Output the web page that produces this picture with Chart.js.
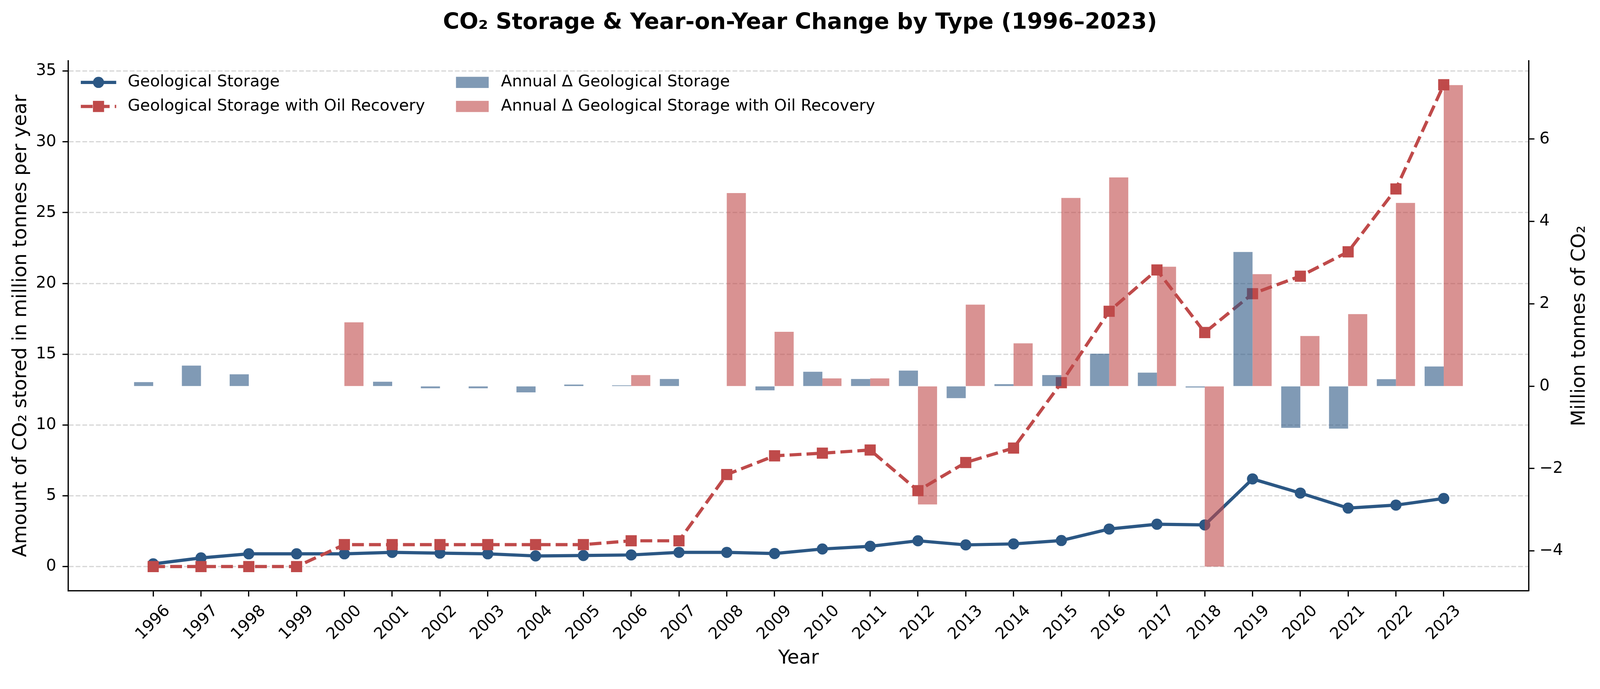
<!DOCTYPE html>
<html>
<head>
<meta charset="utf-8">
<script src="https://cdn.jsdelivr.net/npm/chart.js@4.4.0/dist/chart.umd.min.js"></script>
<style>
  html, body { margin: 0; padding: 0; background: #fff; overflow: hidden; }
  canvas { display: block; }
</style>
</head>
<body>
<canvas id="co2Chart"></canvas>
<script>
// data
const years = [1996, 1997, 1998, 1999, 2000, 2001, 2002, 2003, 2004, 2005, 2006, 2007, 2008, 2009,
               2010, 2011, 2012, 2013, 2014, 2015, 2016, 2017, 2018, 2019, 2020, 2021, 2022, 2023];
const geoStorage = [0.19, 0.61, 0.90, 0.90, 0.90, 1.00, 0.95, 0.90, 0.75, 0.78, 0.82, 1.00, 1.00, 0.92,
                    1.24, 1.43, 1.82, 1.53, 1.60, 1.84, 2.65, 2.99, 2.94, 6.19, 5.19, 4.13, 4.34, 4.81];
const oilStorage = [0, 0, 0, 0, 1.55, 1.55, 1.55, 1.55, 1.55, 1.55, 1.82, 1.82, 6.50, 7.82,
                    8.01, 8.23, 5.36, 7.35, 8.37, 12.99, 18.03, 20.95, 16.53, 19.27, 20.51, 22.23, 26.67, 34.03];
const geoDelta = [0.10, 0.50, 0.29, 0, 0, 0.11, -0.05, -0.05, -0.15, 0.04, 0.02, 0.175, 0, -0.10,
                  0.35, 0.175, 0.38, -0.29, 0.05, 0.27, 0.79, 0.33, -0.03, 3.26, -1.01, -1.03, 0.17, 0.48];
const oilDelta = [0, 0, 0, 0, 1.55, 0, 0, 0, 0, 0, 0.27, 0, 4.69, 1.32,
                  0.19, 0.19, -2.87, 1.98, 1.04, 4.57, 5.07, 2.90, -4.38, 2.72, 1.22, 1.75, 4.45, 7.31];
const leftTicks = [0, 5, 10, 15, 20, 25, 30, 35];
const rightTicks = [-4, -2, 0, 2, 4, 6];

const titleText = 'CO\u2082 Storage & Year-on-Year Change by Type (1996\u20132023)';
const leftLabel = 'Amount of CO\u2082 stored in million tonnes per year';
const rightLabel = 'Million tonnes of CO\u2082';
const xLabel = 'Year';

// layout is designed on a 4158 x 1763 sheet, then scaled to fit the viewport
const BASE_W = 4158, BASE_H = 1763;
const S = Math.min(window.innerWidth / BASE_W, window.innerHeight / BASE_H);
const px = v => v * S;

const BLUE = 'rgb(43,87,132)';
const RED = 'rgb(191,74,74)';
const BLUE_BAR = 'rgba(43,87,132,0.6)';
const RED_BAR = 'rgba(191,74,74,0.6)';
const FONT = '"DejaVu Sans", sans-serif';
const LW = px(8.33);
const DASH = [px(30.8), px(13.3)];

const legendItems = [
  { label: 'Geological Storage', kind: 'line', color: BLUE, marker: 'circle', col: 0, row: 0 },
  { label: 'Geological Storage with Oil Recovery', kind: 'line', color: RED, marker: 'rect', dash: DASH, col: 0, row: 1 },
  { label: 'Annual \u0394 Geological Storage', kind: 'bar', color: BLUE_BAR, col: 1, row: 0 },
  { label: 'Annual \u0394 Geological Storage with Oil Recovery', kind: 'bar', color: RED_BAR, col: 1, row: 1 }
];

const toPoints = arr => arr.map((v, i) => ({ x: years[i], y: v }));

// title, legend, axis titles and rotated year labels
const decor = {
  id: 'decor',
  afterDraw(chart) {
    const ctx = chart.ctx;
    const area = chart.chartArea;
    const xs = chart.scales.x;
    ctx.save();
    ctx.fillStyle = '#000';

    ctx.font = 'bold ' + px(58) + 'px ' + FONT;
    ctx.textAlign = 'center';
    ctx.textBaseline = 'alphabetic';
    ctx.fillText(titleText, chart.width / 2, px(75));

    // year labels, rotated 45 deg and centred on the tick
    ctx.font = px(41.7) + 'px ' + FONT;
    ctx.textBaseline = 'middle';
    years.forEach(yr => {
      ctx.save();
      ctx.translate(xs.getPixelForValue(yr), area.bottom + px(83));
      ctx.rotate(-Math.PI / 4);
      ctx.fillText(String(yr), 0, 0);
      ctx.restore();
    });

    // axis titles
    ctx.font = px(50) + 'px ' + FONT;
    ctx.textBaseline = 'alphabetic';
    ctx.fillText(xLabel, (area.left + area.right) / 2, px(1724));
    const midY = (area.top + area.bottom) / 2;
    ctx.save();
    ctx.translate(px(68), midY);
    ctx.rotate(-Math.PI / 2);
    ctx.fillText(leftLabel, 0, 0);
    ctx.restore();
    ctx.save();
    ctx.translate(px(4118), midY);
    ctx.rotate(-Math.PI / 2);
    ctx.fillText(rightLabel, 0, 0);
    ctx.restore();

    // legend, two columns, no frame
    const colX = [area.left + px(33), area.left + px(1008)];
    const rowY = [area.top + px(56), area.top + px(118.5)];
    ctx.font = px(41.7) + 'px ' + FONT;
    ctx.textAlign = 'left';
    ctx.textBaseline = 'middle';
    legendItems.forEach(it => {
      const x0 = colX[it.col];
      const y0 = rowY[it.row];
      if (it.kind === 'line') {
        ctx.save();
        ctx.strokeStyle = it.color;
        ctx.lineWidth = LW;
        ctx.setLineDash(it.dash || []);
        ctx.beginPath();
        ctx.moveTo(x0, y0);
        ctx.lineTo(x0 + px(92), y0);
        ctx.stroke();
        ctx.setLineDash([]);
        ctx.fillStyle = it.color;
        if (it.marker === 'circle') {
          ctx.beginPath();
          ctx.arc(x0 + px(46), y0, px(14.5), 0, Math.PI * 2);
          ctx.fill();
        } else {
          ctx.fillRect(x0 + px(46 - 14.5), y0 - px(14.5), px(29), px(29));
        }
        ctx.restore();
        ctx.fillText(it.label, x0 + px(122), y0);
      } else {
        ctx.save();
        ctx.fillStyle = it.color;
        ctx.fillRect(x0, y0 - px(14.5), px(85), px(29));
        ctx.restore();
        ctx.fillText(it.label, x0 + px(117), y0);
      }
    });
    ctx.restore();
  }
};

const tickFont = { family: FONT, size: px(41.7) };

const canvas = document.getElementById('co2Chart');
canvas.width = Math.round(BASE_W * S);
canvas.height = Math.round(BASE_H * S);
canvas.style.width = canvas.width + 'px';
canvas.style.height = canvas.height + 'px';

new Chart(canvas, {
  type: 'bar',
  data: {
    datasets: [
      {
        type: 'line',
        label: 'Geological Storage',
        data: toPoints(geoStorage),
        yAxisID: 'y',
        borderColor: BLUE,
        backgroundColor: BLUE,
        borderWidth: LW,
        borderJoinStyle: 'round',
        pointStyle: 'circle',
        pointRadius: px(14.5),
        pointBorderWidth: 0,
        pointBackgroundColor: BLUE,
        tension: 0,
        order: 3
      },
      {
        type: 'line',
        label: 'Geological Storage with Oil Recovery',
        data: toPoints(oilStorage),
        yAxisID: 'y',
        borderColor: RED,
        backgroundColor: RED,
        borderWidth: LW,
        borderDash: DASH,
        borderJoinStyle: 'round',
        pointStyle: 'rect',
        pointRadius: px(20.5),
        pointBorderWidth: 0,
        pointBackgroundColor: RED,
        tension: 0,
        order: 2
      },
      {
        label: 'Annual \u0394 Geological Storage',
        data: toPoints(geoDelta),
        yAxisID: 'y1',
        backgroundColor: BLUE_BAR,
        borderWidth: 0,
        categoryPercentage: 0.8,
        barPercentage: 1.0,
        order: 0
      },
      {
        label: 'Annual \u0394 Geological Storage with Oil Recovery',
        data: toPoints(oilDelta),
        yAxisID: 'y1',
        backgroundColor: RED_BAR,
        borderWidth: 0,
        categoryPercentage: 0.8,
        barPercentage: 1.0,
        order: 1
      }
    ]
  },
  options: {
    responsive: false,
    devicePixelRatio: 1,
    animation: false,
    layout: { padding: { top: px(158), left: 0, right: 0, bottom: 0 } },
    plugins: {
      legend: { display: false },
      title: { display: false },
      tooltip: { enabled: false }
    },
    scales: {
      x: {
        type: 'linear',
        position: 'bottom',
        min: years[0] - 1.78,
        max: years[years.length - 1] + 1.78,
        offset: false,
        afterBuildTicks: s => { s.ticks = years.map(v => ({ value: v })); },
        afterFit: s => { s.height = px(228.4); },
        ticks: { display: false },
        grid: {
          offset: false,
          drawOnChartArea: false,
          drawTicks: true,
          tickLength: px(14.6),
          tickColor: '#000',
          tickWidth: px(3.3)
        },
        border: { display: true, color: '#000', width: px(3.3) }
      },
      y: {
        type: 'linear',
        position: 'left',
        min: -1.72,
        max: 35.72,
        afterBuildTicks: s => { s.ticks = leftTicks.map(v => ({ value: v })); },
        afterFit: s => { s.width = px(177); },
        ticks: { color: '#000', font: tickFont, padding: px(16), callback: v => String(v) },
        grid: {
          color: '#d8d8d8',
          lineWidth: px(3.3),
          drawTicks: true,
          tickLength: px(14.6),
          tickColor: '#000',
          tickWidth: px(3.3)
        },
        border: { display: true, color: '#000', width: px(3.3), dash: [px(12.3), px(5.3)] }
      },
      y1: {
        type: 'linear',
        position: 'right',
        min: -4.97,
        max: 7.90,
        afterBuildTicks: s => { s.ticks = rightTicks.map(v => ({ value: v })); },
        afterFit: s => { s.width = px(185); },
        ticks: {
          color: '#000',
          font: tickFont,
          padding: px(13),
          callback: v => (v < 0 ? '\u2212' + Math.abs(v) : String(v))
        },
        grid: {
          drawOnChartArea: false,
          drawTicks: true,
          tickLength: px(14.6),
          tickColor: '#000',
          tickWidth: px(3.3)
        },
        border: { display: true, color: '#000', width: px(3.3) }
      }
    }
  },
  plugins: [decor]
});
</script>
</body>
</html>
